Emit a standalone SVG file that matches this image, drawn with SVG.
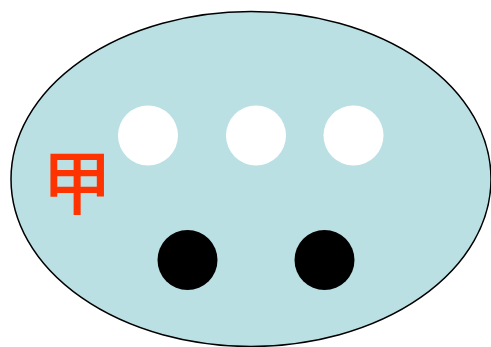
<svg xmlns="http://www.w3.org/2000/svg" width="491" height="347" viewBox="0 0 491 347">
<style>
.white{fill:#ffffff}
.black{fill:#000000}
.lbl{font-family:"Noto Sans CJK SC","Noto Sans CJK JP",sans-serif;fill:#ff3300;text-anchor:middle;font-weight:500}
</style>
<rect width="491" height="347" fill="#ffffff"/>
<g id="cell">
<ellipse cx="251" cy="179" rx="240" ry="167.5" fill="#bae0e3" stroke="#000000" stroke-width="1.5"/>
</g>
<g id="label"><text class="lbl" x="77" y="209" font-size="70">甲</text></g>
<g id="w1"><circle class="white" cx="148" cy="135.5" r="30"/></g>
<g id="w2"><circle class="white" cx="256" cy="135.5" r="30"/></g>
<g id="w3"><circle class="white" cx="353.5" cy="135.5" r="30"/></g>
<g id="b1"><circle class="black" cx="187.5" cy="260" r="30"/></g>
<g id="b2"><circle class="black" cx="324.5" cy="260" r="30"/></g>
<g id="connectors"/>
</svg>
